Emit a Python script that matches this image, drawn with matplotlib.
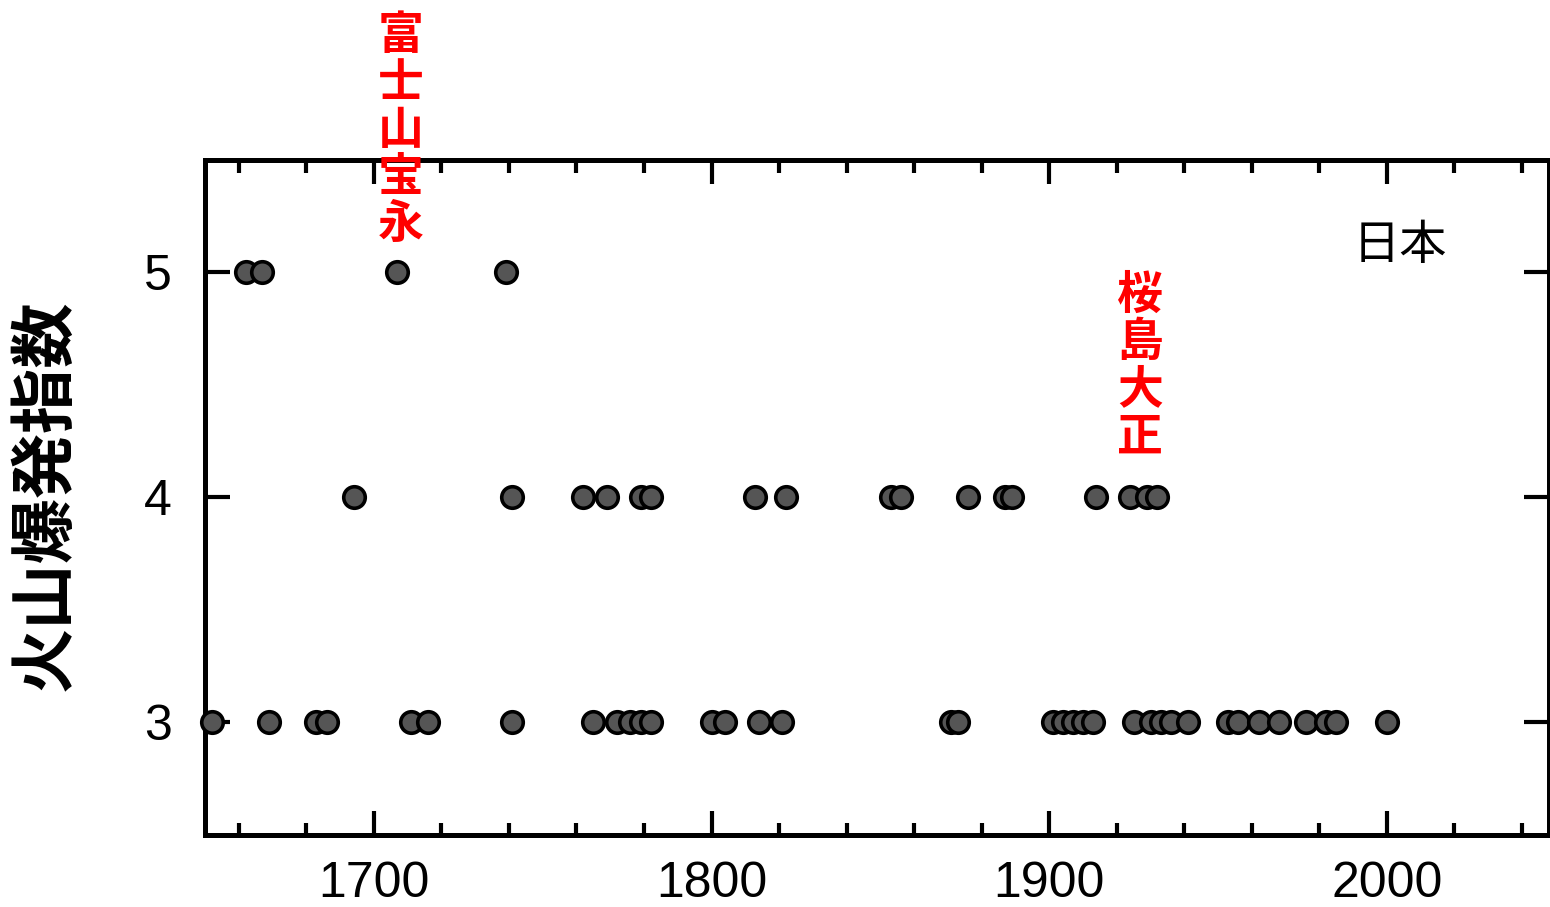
import matplotlib
matplotlib.use('Agg')
import matplotlib.pyplot as plt
from matplotlib.ticker import MultipleLocator

plt.rcParams['font.family'] = ['Liberation Sans', 'Noto Sans CJK JP']

# eruption years, grouped by VEI
years_vei5 = [1662, 1667, 1707, 1739]
years_vei4 = [1694, 1741, 1762, 1769, 1779, 1782, 1813, 1822, 1853, 1856,
              1876, 1887, 1889, 1914, 1924, 1929, 1932]
years_vei3 = [1652, 1669, 1683, 1686, 1711, 1716, 1741, 1765, 1772, 1776,
              1779, 1782, 1800, 1804, 1814, 1821, 1871, 1873, 1901, 1904,
              1907, 1910, 1913, 1925, 1930, 1933, 1936, 1941, 1953, 1956,
              1962, 1968, 1976, 1982, 1985, 2000]

ylabel = '火山爆発指数'
region = '日本'
# label, x (year), y of the bottom of the vertical text
notes = [('富士山宝永', 1708, 5.11), ('桜島大正', 1927, 4.165)]

fig = plt.figure(figsize=(15.5, 9.07), dpi=100)
ax = fig.add_axes([205 / 1550, 1 - 835 / 907, (1549 - 205) / 1550, 675 / 907])

for yrs, vei in [(years_vei5, 5), (years_vei4, 4), (years_vei3, 3)]:
    ax.plot(yrs, [vei] * len(yrs), 'o', ms=15.5, mfc='#555555', mec='black',
            mew=2.6, clip_on=False, zorder=3)

ax.set_xlim(1650, 2048)
ax.set_ylim(2.5, 5.5)
ax.xaxis.set_major_locator(MultipleLocator(100))
ax.xaxis.set_minor_locator(MultipleLocator(20))
ax.set_yticks([3, 4, 5])

for s in ax.spines.values():
    s.set_linewidth(3.6)
ax.tick_params(axis='x', which='major', direction='in', length=17, width=3,
               top=True, labelsize=36, pad=19)
ax.tick_params(axis='x', which='minor', direction='in', length=9, width=3, top=True)
ax.tick_params(axis='y', which='major', direction='in', length=18, width=3,
               right=True, labelsize=36, pad=24)

ax.text(-0.119, 0.504, ylabel, transform=ax.transAxes, rotation=90,
        ha='center', va='center', fontsize=47, fontweight='bold',
        family=['Noto Sans CJK JP'])

ax.text(0.889, 0.873, region, transform=ax.transAxes, ha='center', va='center',
        fontsize=34, family=['Noto Sans CJK JP'])

# vertical red labels for the two famous eruptions
for label, yr, ytxt in notes:
    ax.text(yr, ytxt, '\n'.join(label), ha='center', va='bottom', color='red',
            fontsize=33, fontweight='bold', linespacing=1.03,
            family=['Noto Sans CJK JP'], clip_on=False, zorder=4)

fig.savefig('out.png', dpi=100)
